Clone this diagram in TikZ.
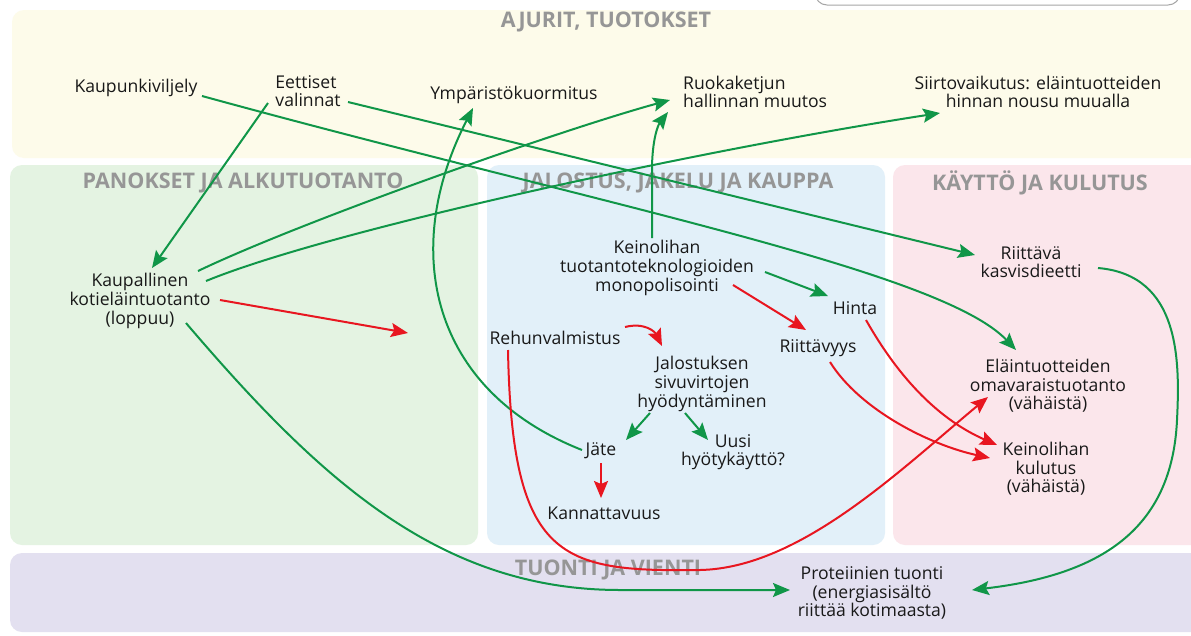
\documentclass[tikz,border=0pt]{standalone}
\usepackage{fontspec}
\setmainfont{Open Sans}
\usetikzlibrary{arrows.meta,calc}
\definecolor{lgreen}{RGB}{16,150,72}
\definecolor{lred}{RGB}{232,22,32}
\definecolor{ttlgray}{RGB}{150,150,150}
\definecolor{bandyellow}{RGB}{253,251,234}
\definecolor{panelgreen}{RGB}{228,243,226}
\definecolor{panelblue}{RGB}{226,240,249}
\definecolor{panelpink}{RGB}{251,230,235}
\definecolor{bandpurple}{RGB}{227,224,240}
\definecolor{txt}{RGB}{25,25,25}
\begin{document}
\begin{tikzpicture}[x=1pt,y=-1pt,
  lbl/.style={align=center,inner sep=1pt,text=txt,font=\fontsize{17.6}{18.6}\selectfont},
  ttl/.style={text=ttlgray,font=\fontsize{21.5}{24}\selectfont\bfseries},
  panel/.style={rounded corners=12pt,draw=none},
  tip/.style={-{Stealth[length=17pt,width=14pt,inset=3pt]}},
  gline/.style={tip,draw=lgreen,line width=2pt},
  rline/.style={tip,draw=lred,line width=2pt}]
\useasboundingbox (0,0) rectangle (1191,635);
% background bands and panels
\fill[white] (0,0) rectangle (1191,635);
\fill[panel,bandyellow] (12,10) rectangle (1205,158);
\fill[panel,panelgreen] (10,165) rectangle (478,545);
\fill[panel,panelblue] (487,165) rectangle (885,545);
\fill[panel,panelpink] (893,165) rectangle (1205,545);
\fill[panel,bandpurple] (10,553) rectangle (1205,632);
\draw[rounded corners=12pt,draw=gray!70,line width=1pt,fill=white] (815,-30) rectangle (1180,5);
% section titles
\node[ttl] (tajurit) at (606,22) {AJURIT, TUOTOKSET};
\node[ttl] (tpanos) at (243,183) {PANOKSET JA ALKUTUOTANTO};
\node[ttl] (tjalos) at (678,183) {JALOSTUS, JAKELU JA KAUPPA};
\node[ttl] (tkaytto) at (1040,183) {KÄYTTÖ JA KULUTUS};
\node[ttl] (ttuonti) at (608,570) {TUONTI JA VIENTI};
% labels
\node[lbl] (kaupv) at (136,88) {Kaupunkiviljely};
\node[lbl,align=left] (eett) at (308,91) {Eettiset\\valinnat};
\node[lbl] (ymp) at (514,95) {Ympäristökuormitus};
\node[lbl,align=left,anchor=west] (ruoka) at (682,92) {Ruokaketjun\\hallinnan muutos};
\node[lbl] (siirto) at (1038,92) {Siirtovaikutus: eläintuotteiden\\hinnan nousu muualla};
\node[lbl] (kaupall) at (140,301) {Kaupallinen\\kotieläintuotanto\\(loppuu)};
\node[lbl] (keino) at (657,268) {Keinolihan\\tuotantoteknologioiden\\monopolisointi};
\node[lbl] (hinta) at (855,308) {Hinta};
\node[lbl] (riitt) at (818,348) {Riittävyys};
\node[lbl] (rehu) at (555,338) {Rehunvalmistus};
\node[lbl] (jalost) at (702,384) {Jalostuksen\\sivuvirtojen\\hyödyntäminen};
\node[lbl] (jate) at (601,451) {Jäte};
\node[lbl] (uusi) at (733,452) {Uusi\\hyötykäyttö?};
\node[lbl] (kann) at (604,513) {Kannattavuus};
\node[lbl] (kasvis) at (1031,262) {Riittävä\\kasvisdieetti};
\node[lbl] (elain) at (1048,386) {Eläintuotteiden\\omavaraistuotanto\\(vähäistä)};
\node[lbl] (kulutus) at (1046,469) {Keinolihan\\kulutus\\(vähäistä)};
\node[lbl] (prot) at (872,593) {Proteiinien tuonti\\(energiasisältö\\riittää kotimaasta)};
\coordinate (kaupallout) at (408,333);
% green connectors
\draw[gline] ($(eett)+(-40,12)$) -- ($(kaupall)+(12,-33)$);
\draw[gline] ($(kaupall)+(58,-30)$) .. controls (300,222) and (560,130) .. ($(ruoka.west)+(-12,8)$);
\draw[gline] ($(kaupall)+(66,-20)$) .. controls (330,230) and (700,150) .. ($(siirto)+(-98,21)$);
\draw[gline] ($(kaupall)+(46,22)$) .. controls (320,480) and (440,590) .. (620,590) -- ($(prot)+(-82,-3)$);
\draw[gline] ($(kaupv)+(66,8)$) .. controls (600,205) and (940,270) .. ($(elain)+(-32,-36)$);
\draw[gline] ($(eett)+(40,11)$) -- ($(kasvis)+(-56,-7)$);
\draw[gline] ($(jate)+(-19,-1)$) .. controls (430,390) and (400,250) .. ($(ymp)+(-41,13)$);
\draw[gline] ($(keino)+(-5,-30)$) -- (652,170) .. controls (652,140) and (658,125) .. ($(ruoka.west)+(-14,20)$);
\draw[gline] ($(keino)+(108,4)$) -- ($(hinta)+(-27,-12)$);
\draw[gline] ($(jalost)+(-52,29)$) -- ($(jate)+(25,-11)$);
\draw[gline] ($(jalost)+(-17,29)$) -- ($(uusi)+(-25,-12)$);
\draw[gline] ($(kasvis)+(67,6)$) .. controls (1180,275) and (1180,360) .. (1177,420) .. controls (1172,530) and (1100,575) .. ($(prot)+(100,-3)$);
% red connectors
\draw[rline] ($(kaupall)+(80,-1)$) -- (kaupallout);
\draw[rline] ($(keino)+(76,17)$) -- ($(riitt)+(-12,-18)$);
\draw[rline] ($(rehu)+(70,-11)$) .. controls (645,322) and (655,332) .. ($(jalost)+(-40,-38)$);
\draw[rline] ($(rehu)+(-47,12)$) .. controls (512,560) and (560,572) .. (700,570) .. controls (800,568) and (900,470) .. ($(elain)+(-60,11)$);
\draw[rline] ($(jate)+(0,12)$) -- ($(kann)+(-3,-15)$);
\draw[rline] ($(hinta)+(11,12)$) .. controls (900,380) and (940,420) .. ($(kulutus)+(-49,-24)$);
\draw[rline] ($(riitt)+(12,14)$) .. controls (860,410) and (930,445) .. ($(kulutus)+(-56,-11)$);
\end{tikzpicture}
\end{document}
